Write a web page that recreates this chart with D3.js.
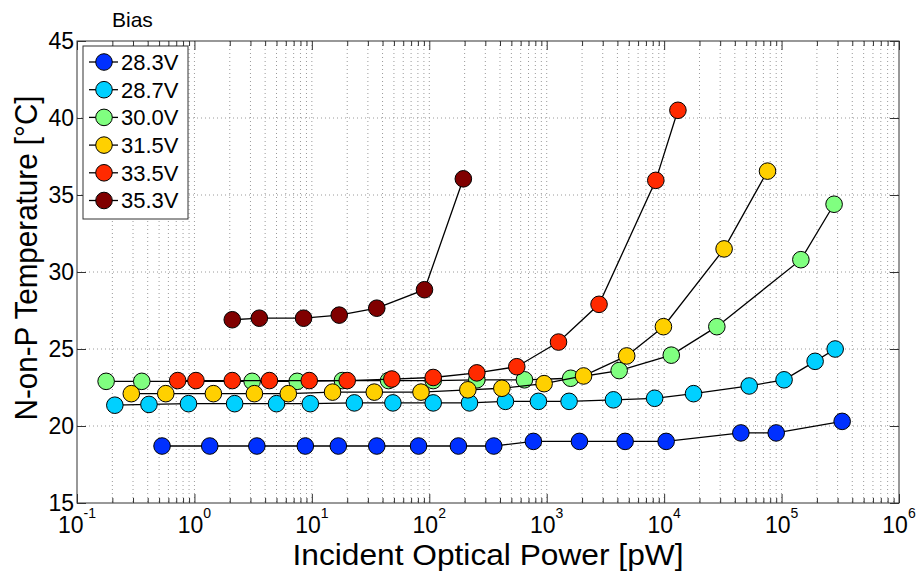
<!DOCTYPE html>
<html>
<head>
<meta charset="utf-8">
<script src="https://cdn.jsdelivr.net/npm/d3@7"></script>
<style>
  html, body { margin: 0; padding: 0; background: #fff; }
  svg { display: block; font-family: "Liberation Sans", Arial, sans-serif; }
</style>
</head>
<body>
<svg id="chart" width="920" height="572"></svg>
<script>
// Bias voltages (legend order)
const biasLabels = ["28.3V", "28.7V", "30.0V", "31.5V", "33.5V", "35.3V"];

// Incident optical power [pW] and N-on-P temperature [°C] for each bias
const power283 = [0.53, 1.35, 3.4, 8.8, 16.8, 35.7, 81, 177, 354, 770, 1900, 4650, 10400, 45000, 90000, 328000];
const temp283  = [18.7, 18.7, 18.7, 18.7, 18.7, 18.7, 18.7, 18.7, 18.7, 19.0, 19.0, 19.0, 19.0, 19.55, 19.55, 20.3];

const power287 = [0.21, 0.41, 0.89, 2.2, 5.0, 9.7, 23, 49, 108, 220, 445, 850, 1550, 3700, 8300, 17800, 53000, 105000, 193000, 286000];
const temp287  = [21.35, 21.4, 21.45, 21.45, 21.45, 21.45, 21.5, 21.5, 21.5, 21.5, 21.6, 21.6, 21.6, 21.7, 21.8, 22.1, 22.6, 23.0, 24.2, 25.0];

const power300 = [0.177, 0.356, 3.1, 7.5, 18.2, 45, 108, 254, 646, 1600, 4140, 11500, 28100, 146000, 280000];
const temp300  = [22.9, 22.9, 22.9, 22.9, 22.95, 22.95, 22.95, 23.0, 23.0, 23.1, 23.6, 24.6, 26.45, 30.8, 34.4];

const power315 = [0.29, 0.57, 1.45, 3.24, 6.3, 15, 34, 85, 213, 415, 950, 2060, 4800, 9860, 32400, 75900];
const temp315  = [22.1, 22.1, 22.1, 22.1, 22.1, 22.2, 22.2, 22.2, 22.35, 22.45, 22.75, 23.25, 24.55, 26.45, 31.5, 36.55];

const power335 = [0.72, 1.03, 2.1, 4.35, 9.5, 20, 48, 108, 254, 556, 1260, 2790, 8490, 13100];
const temp335  = [22.95, 22.95, 22.95, 22.95, 22.95, 22.95, 23.05, 23.15, 23.45, 23.85, 25.45, 27.9, 35.95, 40.5];

const power353 = [2.1, 3.57, 8.5, 17.1, 35.7, 91, 195];
const temp353  = [26.9, 27.0, 27.0, 27.2, 27.65, 28.85, 36.05];

// Axis ticks
const xTickExponents = [-1, 0, 1, 2, 3, 4, 5, 6];
const yTickValues = [15, 20, 25, 30, 35, 40, 45];

// Marker fill per bias
const biasColors = ["#0030ff", "#00d0ff", "#80ff80", "#ffd000", "#ff2a00", "#800000"];

(function draw() {
  const seriesPowers = [power283, power287, power300, power315, power335, power353];
  const seriesTemps  = [temp283, temp287, temp300, temp315, temp335, temp353];
  const series = biasLabels.map((label, i) => ({
    label,
    color: biasColors[i],
    points: seriesPowers[i].map((p, j) => ({ p, t: seriesTemps[i][j] }))
  }));

  const svg = d3.select("#chart");
  const pL = 77, pR = 899, pT = 41, pB = 503;
  const axisColor = "#333";

  const x = d3.scaleLog().domain([0.1, 1e6]).range([pL, pR]);
  const y = d3.scaleLinear().domain([15, 45]).range([pB, pT]);

  // Minor (2..9 per decade) and major positions on the log axis
  const minorX = [];
  for (let e = -1; e < 6; e++) {
    for (let k = 2; k <= 9; k++) minorX.push(k * Math.pow(10, e));
  }
  const majorX = xTickExponents.map(e => Math.pow(10, e));

  // Dotted grid
  const grid = svg.append("g");
  grid.selectAll("line.gx").data(minorX.concat(majorX.slice(1, -1))).join("line")
    .attr("x1", d => x(d)).attr("x2", d => x(d))
    .attr("y1", pT).attr("y2", pB)
    .attr("stroke", "#9a9a9a").attr("stroke-width", 1)
    .attr("stroke-dasharray", "1,3");
  grid.selectAll("line.gy").data(yTickValues.slice(1, -1)).join("line")
    .attr("x1", pL).attr("x2", pR)
    .attr("y1", d => y(d)).attr("y2", d => y(d))
    .attr("stroke", "#9a9a9a").attr("stroke-width", 1)
    .attr("stroke-dasharray", "1,3");

  // Inward ticks on all four sides
  const axes = [
    svg.append("g").attr("transform", `translate(0,${pB})`)
      .call(d3.axisTop(x).tickValues(majorX).tickSize(9).tickFormat("")),
    svg.append("g").attr("transform", `translate(0,${pB})`)
      .call(d3.axisTop(x).tickValues(minorX).tickSize(5).tickFormat("")),
    svg.append("g").attr("transform", `translate(0,${pT})`)
      .call(d3.axisBottom(x).tickValues(majorX).tickSize(9).tickFormat("")),
    svg.append("g").attr("transform", `translate(0,${pT})`)
      .call(d3.axisBottom(x).tickValues(minorX).tickSize(5).tickFormat("")),
    svg.append("g").attr("transform", `translate(${pL},0)`)
      .call(d3.axisRight(y).tickValues(yTickValues).tickSize(9).tickFormat("")),
    svg.append("g").attr("transform", `translate(${pR},0)`)
      .call(d3.axisLeft(y).tickValues(yTickValues).tickSize(9).tickFormat(""))
  ];
  axes.forEach(g => {
    g.select(".domain").remove();
    g.selectAll("line").attr("stroke", axisColor);
  });

  // Box
  svg.append("rect")
    .attr("x", pL).attr("y", pT)
    .attr("width", pR - pL).attr("height", pB - pT)
    .attr("fill", "none").attr("stroke", axisColor).attr("stroke-width", 1);

  // X tick labels: 10^n
  const xl = svg.append("g").selectAll("text").data(xTickExponents).join("text")
    .attr("x", d => x(Math.pow(10, d)))
    .attr("y", 533)
    .attr("text-anchor", "middle")
    .attr("font-size", 23)
    .attr("fill", "#000");
  xl.append("tspan").text("10");
  xl.append("tspan").attr("dy", -15).attr("font-size", 14).text(d => d);

  // Y tick labels
  svg.append("g").selectAll("text").data(yTickValues).join("text")
    .attr("x", 74)
    .attr("y", d => y(d))
    .attr("dy", "0.36em")
    .attr("text-anchor", "end")
    .attr("font-size", 23)
    .attr("fill", "#000")
    .text(d => d);

  // Axis titles
  svg.append("text")
    .attr("x", (pL + pR) / 2).attr("y", 565)
    .attr("text-anchor", "middle")
    .attr("font-size", 29)
    .attr("textLength", 391).attr("lengthAdjust", "spacingAndGlyphs")
    .attr("fill", "#000")
    .text("Incident Optical Power [pW]");
  svg.append("text")
    .attr("transform", "translate(37,258) rotate(-90)")
    .attr("text-anchor", "middle")
    .attr("font-size", 32)
    .attr("textLength", 325).attr("lengthAdjust", "spacingAndGlyphs")
    .attr("fill", "#000")
    .text("N-on-P Temperature [°C]");

  // Data series: line, then markers
  const line = d3.line().x(d => x(d.p)).y(d => y(d.t));
  const sg = svg.append("g").selectAll("g").data(series).join("g");
  sg.append("path")
    .attr("d", d => line(d.points))
    .attr("fill", "none").attr("stroke", "#000").attr("stroke-width", 1.3);
  sg.selectAll("circle").data(d => d.points.map(pt => ({ ...pt, color: d.color }))).join("circle")
    .attr("cx", d => x(d.p)).attr("cy", d => y(d.t))
    .attr("r", 8.3)
    .attr("fill", d => d.color)
    .attr("stroke", "#000").attr("stroke-width", 1);

  // Legend
  const legX = 83, legY = 46, legW = 105, legH = 173, rowH = 27.7;
  svg.append("text")
    .attr("x", 112).attr("y", 27)
    .attr("font-size", 21)
    .attr("fill", "#000")
    .text("Bias");
  svg.append("rect")
    .attr("x", legX).attr("y", legY).attr("width", legW).attr("height", legH)
    .attr("fill", "#fff").attr("stroke", axisColor).attr("stroke-width", 1);
  const lg = svg.append("g").selectAll("g").data(series).join("g")
    .attr("transform", (d, i) => `translate(0,${legY + 16 + i * rowH})`);
  lg.append("line")
    .attr("x1", 89).attr("x2", 118).attr("y1", 0).attr("y2", 0)
    .attr("stroke", "#000").attr("stroke-width", 1.3);
  lg.append("circle")
    .attr("cx", 104).attr("cy", 0).attr("r", 8.3)
    .attr("fill", d => d.color).attr("stroke", "#000").attr("stroke-width", 1);
  lg.append("text")
    .attr("x", 121).attr("y", 0).attr("dy", "0.36em")
    .attr("font-size", 22)
    .attr("fill", "#000")
    .text(d => d.label);
})();
</script>
</body>
</html>
